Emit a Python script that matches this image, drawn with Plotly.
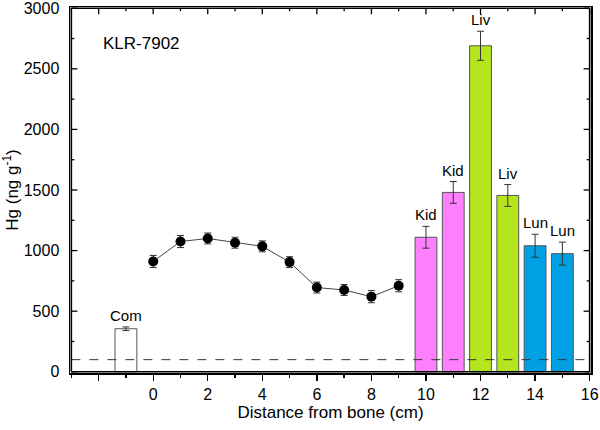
import plotly.graph_objects as go

dist = [0, 1, 2, 3, 4, 5, 6, 7, 8, 9]
hg_bone = [910, 1075, 1100, 1065, 1035, 905, 695, 675, 620, 710]
hg_bone_err = [50, 50, 45, 45, 45, 45, 45, 45, 50, 50]

bar_x = [-1, 10, 11, 12, 13, 14, 15]
bar_vals = [355, 1110, 1480, 2690, 1455, 1040, 975]
bar_err = [15, 90, 90, 120, 90, 95, 95]
bar_labels = ["Com", "Kid", "Kid", "Liv", "Liv", "Lun", "Lun"]
bar_colors = ["white", "#FF80FF", "#FF80FF", "#B4E51E", "#B4E51E", "#00A0E4", "#00A0E4"]

baseline = 100
sample_id = "KLR-7902"

font = "Liberation Sans, Arial, sans-serif"
AX = "black"
xr = [-3, 16]
yr = [0, 3000]
xpad, ypad = 0.05, 10
x_axis_range = [xr[0] - xpad, xr[1] + xpad]
y_axis_range = [yr[0] - ypad, yr[1] + ypad]
px_per_x = 521 / (x_axis_range[1] - x_axis_range[0])
px_per_y = 366 / (y_axis_range[1] - y_axis_range[0])

fig = go.Figure()
fig.add_trace(go.Bar(
    x=bar_x, y=bar_vals, width=0.8,
    marker=dict(color=bar_colors, line=dict(color="#555555", width=1)),
    error_y=dict(type="data", array=bar_err, color="#333333", thickness=1, width=3.5),
    showlegend=False,
))
fig.add_trace(go.Scatter(
    x=dist, y=hg_bone, mode="lines+markers",
    line=dict(color="#444444", width=1),
    marker=dict(color="black", size=10),
    error_y=dict(type="data", array=hg_bone_err, color="#333333", thickness=1, width=3.5),
    showlegend=False,
))
fig.add_trace(go.Scatter(
    x=xr, y=[baseline, baseline], mode="lines",
    line=dict(color="#333333", width=1, dash="dash"), showlegend=False,
))

# inward ticks on left, right and top edges
for v in range(yr[0], yr[1] + 1, 250):
    L = (6 if v % 500 == 0 else 3) / px_per_x
    fig.add_trace(go.Scatter(x=[xr[0], xr[0] + L], y=[v, v], mode="lines",
                             line=dict(color=AX, width=1.3), showlegend=False))
    fig.add_trace(go.Scatter(x=[xr[1] - L, xr[1]], y=[v, v], mode="lines",
                             line=dict(color=AX, width=1.3), showlegend=False))
for v in range(xr[0], xr[1] + 1):
    L = (6 if v % 2 == 0 else 3) / px_per_y
    fig.add_trace(go.Scatter(x=[v, v], y=[yr[1] - L, yr[1]], mode="lines",
                             line=dict(color=AX, width=1.3), showlegend=False))
# frame
fig.add_trace(go.Scatter(
    x=[xr[0], xr[1], xr[1], xr[0], xr[0]], y=[yr[0], yr[0], yr[1], yr[1], yr[0]],
    mode="lines", line=dict(color=AX, width=1.6), showlegend=False,
))

for x, v, e, t in zip(bar_x, bar_vals, bar_err, bar_labels):
    fig.add_annotation(x=x, y=v + e, text=t, showarrow=False, yanchor="bottom",
                       yshift=1, font=dict(family=font, size=15, color="black"))
fig.add_annotation(x=0.138, y=0.90, xref="paper", yref="paper", text=sample_id,
                   showarrow=False, xanchor="center", yanchor="middle",
                   font=dict(family=font, size=17, color="black"))

xt = list(range(-2, 17, 2))
xminor = list(range(-3, 17, 2))
fig.update_layout(
    xaxis=dict(
        range=x_axis_range, tickvals=xt, ticktext=["" if v < 0 else str(v) for v in xt],
        ticks="outside", ticklen=6, tickwidth=1.3, tickcolor=AX,
        minor=dict(tickvals=xminor, ticks="outside", ticklen=3, tickwidth=1.3, tickcolor=AX),
        showline=True, linecolor=AX, linewidth=1.5, mirror=True,
        showgrid=False, zeroline=False, automargin=False,
        title=dict(text="Distance from bone (cm)", font=dict(family=font, size=17), standoff=4),
        tickfont=dict(family=font, size=16, color="black"),
    ),
    yaxis=dict(
        range=y_axis_range, tickvals=list(range(0, 3001, 500)),
        ticks="", ticklabelstandoff=6,
        showline=True, linecolor=AX, linewidth=1.5, mirror=True,
        showgrid=False, zeroline=False, automargin=False, ticklabeloverflow="allow",
        title=dict(text="Hg (ng g<sup>-1</sup>)", font=dict(family=font, size=17), standoff=8),
        tickfont=dict(family=font, size=16, color="black"),
    ),
    width=600, height=430, margin=dict(l=70, r=9, t=7, b=57),
    plot_bgcolor="white", paper_bgcolor="white", bargap=0,
    font=dict(family=font, color="black"),
)
fig.write_html("out.html", config={"displayModeBar": False, "staticPlot": True},
               post_script="document.body.style.margin='0px';")
